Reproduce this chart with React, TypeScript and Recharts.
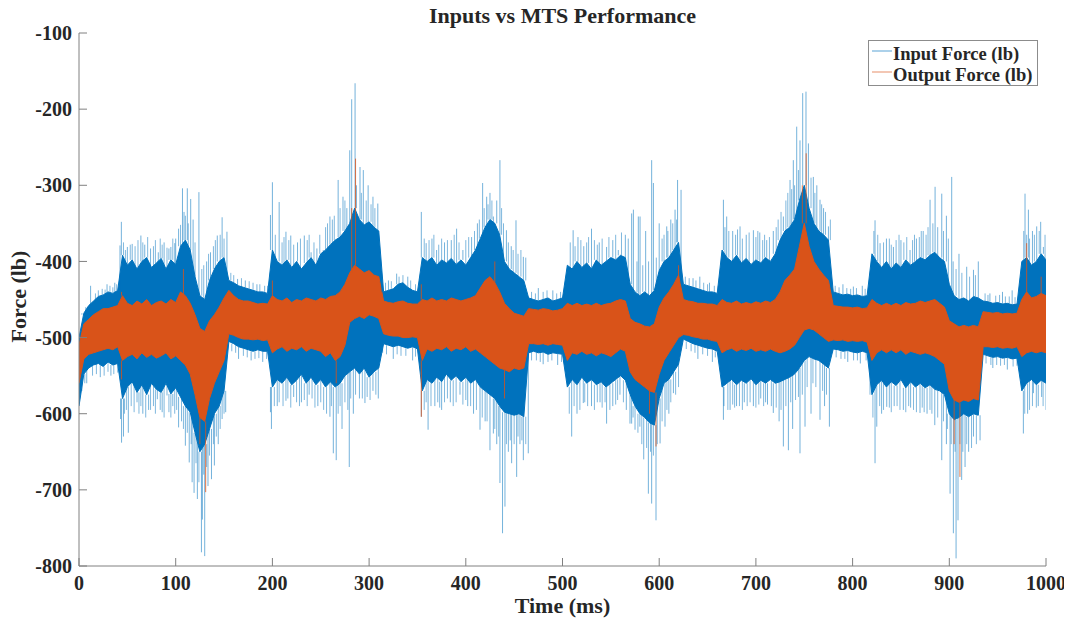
import React from 'react';
import { ComposedChart, Area, Line, XAxis, YAxis, Legend } from 'recharts';

// ---- axis ticks ----
const timeTicks = [0, 100, 200, 300, 400, 500, 600, 700, 800, 900, 1000];
const forceTicks = [-800, -700, -600, -500, -400, -300, -200, -100];

// ---- sample grid (ms), one sample every 5 ms ----
const times = Array.from({ length: 201 }, (_, i) => i * 5);

// ---- Input force: upper / lower edge of the dense signal band (lb) ----
const inputHigh = [
  -500, -468, -458, -452, -446, -444, -440, -442, -438, -392,
  -405, -398, -410, -400, -395, -408, -402, -396, -410, -398,
  -404, -380, -372, -385, -420, -445, -450, -425, -410, -400,
  -395, -425, -428, -432, -434, -436, -438, -440, -440, -442,
  -385, -400, -405, -398, -408, -400, -410, -402, -395, -405,
  -390, -385, -378, -372, -368, -360, -350, -330, -345, -352,
  -348, -355, -360, -440, -438, -436, -430, -428, -434, -438,
  -440, -395, -400, -395, -405, -398, -402, -396, -404, -398,
  -405, -395, -385, -370, -355, -345, -350, -365, -400, -410,
  -415, -420, -425, -448, -450, -452, -450, -448, -452, -450,
  -448, -405, -410, -400, -408, -402, -410, -398, -405, -400,
  -395, -398, -392, -395, -430, -440, -445, -440, -445, -438,
  -412, -400, -395, -385, -375, -430, -432, -434, -436, -438,
  -440, -440, -442, -385, -395, -400, -392, -402, -396, -404,
  -398, -402, -395, -400, -390, -372, -360, -355, -345, -320,
  -300, -330, -350, -360, -365, -372, -440, -442, -444, -443,
  -445, -444, -446, -445, -390, -400, -408, -400, -410, -402,
  -408, -398, -405, -400, -395, -398, -392, -388, -395, -400,
  -430, -445, -450, -448, -452, -446, -448, -452, -453, -455,
  -454, -456, -455, -457, -456, -400, -395, -405, -400, -390,
  -398,
];
const inputLow = [
  -590, -548, -540, -536, -534, -538, -532, -536, -534, -580,
  -565, -558, -572, -562, -575, -560, -568, -572, -560, -574,
  -566, -578, -590, -598, -625, -650, -640, -620, -600, -590,
  -570, -505, -508, -512, -514, -516, -518, -516, -518, -518,
  -565, -555, -560, -552, -562, -556, -548, -560, -552, -562,
  -555, -565, -558, -565, -560, -550, -545, -540, -548, -540,
  -552, -545, -540, -508, -510, -512, -510, -512, -514, -512,
  -515, -570, -555, -560, -552, -558, -548, -556, -550, -558,
  -552, -560, -555, -565, -570, -575, -580, -590, -598, -600,
  -602, -600, -604, -520, -518, -520, -519, -522, -520, -521,
  -522, -565, -555, -562, -552, -560, -555, -562, -558, -565,
  -560, -555, -550, -556, -575, -590, -600, -605, -612, -615,
  -580, -560, -555, -545, -535, -502, -505, -508, -510, -512,
  -514, -515, -518, -565, -560, -555, -562, -556, -560, -554,
  -562, -556, -560, -555, -560, -558, -555, -552, -548, -540,
  -530, -525, -528, -530, -535, -540, -515, -516, -518, -517,
  -519, -520, -518, -520, -575, -562, -556, -565, -558, -563,
  -555, -566, -558, -565, -560, -566, -562, -568, -570, -575,
  -600, -608, -605, -600, -604, -600, -602, -522, -524, -526,
  -525, -527, -526, -528, -527, -570, -560, -555, -562, -556,
  -560,
];

// ---- Output force: upper / lower edge of its band (lb) ----
const outputHigh = [
  -510, -482, -476, -470, -466, -462, -462, -460, -458, -445,
  -455, -458, -452, -456, -450, -458, -454, -452, -456, -450,
  -454, -440, -445, -455, -470, -488, -492, -478, -470, -460,
  -448, -438, -445, -450, -452, -452, -454, -456, -455, -456,
  -445, -450, -452, -448, -454, -450, -452, -448, -450, -452,
  -448, -450, -446, -445, -440, -430, -415, -405, -410, -415,
  -412, -418, -420, -452, -454, -455, -453, -452, -455, -456,
  -456, -450, -452, -448, -452, -450, -452, -448, -450, -452,
  -450, -448, -445, -435, -425, -420, -428, -440, -455, -462,
  -468, -470, -472, -462, -463, -464, -462, -463, -465, -464,
  -462, -455, -458, -455, -458, -456, -458, -455, -458, -456,
  -455, -452, -450, -452, -475, -480, -482, -485, -486, -482,
  -460, -448, -440, -430, -418, -450, -452, -453, -455, -455,
  -456, -456, -458, -450, -454, -455, -452, -456, -454, -456,
  -453, -455, -452, -454, -450, -440, -425, -418, -410, -380,
  -350, -380, -400, -410, -418, -425, -458, -459, -460, -460,
  -461, -460, -462, -461, -450, -455, -458, -455, -458, -455,
  -458, -454, -456, -455, -452, -454, -452, -450, -455, -460,
  -478, -482, -486, -484, -486, -484, -486, -466, -467, -468,
  -467, -469, -468, -469, -468, -450, -440, -448, -446, -442,
  -445,
];
const outputLow = [
  -560, -528, -522, -520, -518, -516, -514, -516, -512, -530,
  -525, -522, -528, -520, -526, -522, -527, -524, -520, -528,
  -524, -530, -536, -548, -575, -605, -610, -580, -560, -545,
  -530, -495, -497, -500, -502, -502, -503, -502, -504, -503,
  -520, -515, -512, -518, -514, -516, -512, -518, -514, -516,
  -518, -525, -520, -530, -525, -510, -480, -475, -472, -475,
  -470, -472, -475, -495, -497, -498, -498, -500, -500, -499,
  -500, -530, -515, -518, -514, -516, -512, -518, -514, -516,
  -512, -518, -515, -520, -525, -530, -535, -540, -542, -545,
  -540, -542, -540, -508, -508, -509, -508, -510, -508, -509,
  -510, -530, -520, -522, -518, -522, -520, -524, -520, -522,
  -525, -520, -515, -518, -545, -555, -560, -565, -570, -572,
  -548, -530, -520, -510, -500, -496, -497, -499, -500, -502,
  -502, -504, -505, -520, -516, -514, -518, -515, -517, -514,
  -518, -516, -518, -515, -518, -520, -518, -515, -510, -500,
  -490, -488, -490, -495, -500, -505, -503, -504, -503, -505,
  -504, -505, -504, -506, -530, -520, -516, -520, -516, -520,
  -516, -522, -518, -520, -522, -520, -522, -525, -530, -535,
  -570, -582, -585, -582, -584, -580, -582, -512, -512, -513,
  -512, -514, -513, -514, -512, -525, -520, -518, -520, -518,
  -520,
];

// ---- isolated excursions beyond the bands: [time ms, peak lb] ----
const inputUpSpikes = [
  [12, -432], [29, -430], [37, -428],
  [42.4, -379], [43.8, -348], [50, -381], [55, -377], [64, -366], [68, -378], [74, -383],
  [82, -388], [88, -375], [93, -383], [95, -381], [100, -370], [103, -357], [107, -304],
  [108.6, -335], [112, -304], [115.5, -318], [118, -345], [124, -309], [132, -400],
  [136, -388], [143, -366], [148, -342], [153, -361],
  [164, -423], [172, -425], [184, -430], [192, -432],
  [198, -339], [200, -296], [207, -322], [214, -361], [219, -366], [226, -375], [233, -366],
  [240, -388], [246, -383], [252.6, -398], [259.5, -341], [268, -293], [273, -315],
  [277, -330], [280, -254], [282, -187], [285.5, -166], [290.6, -276], [294, -280],
  [299, -300], [304, -315], [309, -324],
  [320, -425], [328.5, -416], [340, -420],
  [354, -335], [359, -376], [365, -370], [369.8, -385], [378, -375], [385, -372],
  [390.5, -357], [397, -385], [406, -368], [412, -350], [417.4, -297], [421.6, -315],
  [425, -310], [428.5, -341], [432, -320], [435.3, -267], [442, -359], [447, -380],
  [451.9, -346], [459.5, -394],
  [475, -435], [490, -438],
  [511, -359], [516, -368], [522, -380], [530, -357], [538, -375], [545.6, -381],
  [552, -372], [557.7, -385], [565, -365], [571.5, -337], [573.3, -332], [578.4, -341],
  [580.2, -341], [586, -360], [592.2, -267], [594, -297], [600, -350], [607.8, -354],
  [612, -345], [616.4, -332], [619, -293], [622.6, -306],
  [635, -422], [642, -420], [652, -428],
  [666.4, -319], [669.8, -341], [676, -360], [683.6, -354], [690, -365], [697.4, -359],
  [704, -362], [711.2, -372], [718, -360], [728.4, -341], [735.3, -293], [738.7, -267],
  [742.2, -223], [745.6, -241], [748.4, -179], [751.8, -177], [754.3, -245], [759.4, -289],
  [763, -300], [766.3, -319], [770, -330], [775, -354],
  [790, -430], [800.8, -433], [810, -432],
  [823.2, -346], [828.4, -376], [835, -370], [842.2, -381], [850, -372], [859.4, -385],
  [866, -370], [873, -360], [880.1, -319], [885.3, -302], [892.2, -311], [897, -340],
  [902.5, -289], [910, -390], [918, -407], [925, -411], [930, -400],
  [942, -442], [955, -440], [965, -438],
  [978.3, -311], [981.8, -332], [986, -360], [990.4, -354], [994.5, -348], [997.3, -381],
];
const inputDownSpikes = [
  [8, -560], [22, -552], [33, -550],
  [43, -607], [44, -638], [46, -630], [51, -625], [60, -585], [66, -600], [72, -595],
  [81, -581], [86, -598], [91, -576], [97, -590], [103, -618], [110, -642], [114, -664],
  [117, -690], [119, -704], [122.4, -712], [126.6, -782], [127.6, -739], [130, -787],
  [133.4, -695], [137, -686], [140, -668], [144, -640], [148, -607], [151.7, -598],
  [165, -528], [178, -530], [190, -532],
  [198, -598], [199, -620], [205, -590], [214, -583], [222, -578], [230, -585], [238, -575],
  [247, -590], [259.5, -604], [263, -652], [266, -661], [272, -620], [279.5, -670],
  [283.7, -600], [290, -580], [295.7, -586], [304, -570], [309.5, -580],
  [325, -528], [345, -530],
  [354, -604], [361, -621], [368, -590], [375, -595], [384, -585], [394, -575], [402, -590],
  [408, -600], [414.7, -621], [420, -610], [425, -648], [428.5, -626], [432, -640],
  [435.3, -691], [438, -757], [440.5, -722], [444, -650], [447.4, -665], [452.6, -683],
  [456, -640], [459.5, -661], [464.6, -652],
  [480, -535], [495, -536],
  [509.5, -630], [515, -600], [521.5, -586], [530, -590], [538.8, -585], [545.6, -613],
  [552, -590], [559.4, -575], [566, -595], [569.8, -613], [571.5, -613], [575, -621],
  [580, -617], [584, -660], [588.8, -705], [592.2, -718], [596.7, -740], [600.9, -639],
  [606, -617], [610, -600], [614.7, -573],
  [640, -528], [655, -532],
  [666.4, -608], [673.3, -595], [680, -590], [688, -585], [697.4, -590], [705, -580],
  [712, -588], [718, -599], [724, -610], [728.4, -643], [733.6, -648], [738, -620],
  [745.6, -652], [750.8, -617], [757, -600], [766.3, -608], [771, -590], [776, -617],
  [795, -532], [808, -534],
  [823.2, -665], [825, -617], [830, -600], [835.3, -591], [843, -590], [852.5, -595],
  [860, -592], [869.7, -599], [877, -600], [885, -615], [892.2, -661], [897, -640],
  [900.8, -705], [904.2, -757], [907, -790], [909, -740], [912.8, -687], [916.3, -670],
  [920, -650], [925, -630], [931.8, -635],
  [945, -540], [960, -542],
  [976.6, -626], [981, -600], [987, -573], [992, -590], [995.5, -578],
];

// ---- short fuzz just outside the band edges: [time ms, peak lb] ----
const inputUpFuzz = [
  [3, -470], [7, -460], [17, -442], [20, -438], [24, -436], [27, -437], [32, -432], [35, -434], [39, -430],
  [46, -375], [48, -385], [53, -378], [58, -380], [61, -372], [66, -375], [71, -368], [77, -380],
  [79, -372], [84, -370], [86, -378], [91, -382], [97, -370], [99, -376], [105, -352], [110, -340],
  [113, -350], [120, -375], [127, -410], [129, -405], [134, -390], [139, -380], [141, -372],
  [146, -365], [150, -370],
  [157, -415], [160, -418], [168, -422], [176, -426], [180, -428], [187, -430], [195, -432],
  [203, -365], [210, -375], [212, -368], [217, -372], [222, -378], [229, -370], [236, -372],
  [238, -365], [243, -375], [249, -365], [255, -355], [257, -350], [262, -345], [264, -340],
  [270, -330], [275, -320], [287, -300], [292, -310], [297, -320], [302, -325], [306, -330],
  [313, -430], [317, -428], [323, -426], [331, -420], [335, -418], [343, -425], [348, -430],
  [357, -370], [362, -372], [367, -365], [372, -378], [375, -370], [381, -372], [388, -365],
  [393, -375], [400, -372], [403, -368], [409, -360], [414, -345], [419, -330], [423, -325],
  [427, -320], [437, -330], [439, -350], [444, -375], [449, -385], [454, -390], [457, -385],
  [462, -395],
  [468, -440], [472, -442], [480, -440], [484, -438], [494, -442], [498, -440], [502, -438],
  [508, -375], [513, -380], [519, -372], [525, -375], [527, -368], [533, -372], [536, -378],
  [541, -370], [548, -368], [555, -365], [561, -362], [568, -370], [577, -400], [583, -405],
  [589, -400], [597, -395], [603, -370], [605, -365], [609, -360], [614, -350], [618, -345],
  [627, -420], [631, -422], [638, -425], [646, -428], [650, -430], [657, -432], [661, -432],
  [668, -355], [672, -360], [679, -365], [681, -358], [686, -370], [693, -362], [700, -368],
  [702, -360], [707, -372], [709, -365], [714, -368], [721, -355], [723, -345], [726, -335],
  [731, -320], [733, -310], [737, -305], [740, -300], [744, -280], [757, -290], [761, -310],
  [768, -325], [772, -335], [777, -345],
  [782, -432], [786, -434], [794, -435], [798, -436], [804, -435], [813, -436], [817, -436],
  [822, -360], [826, -365], [832, -375], [838, -370], [840, -378], [845, -372], [848, -365],
  [853, -375], [856, -368], [862, -372], [864, -365], [869, -368], [871, -360], [876, -365],
  [878, -355], [883, -350], [888, -355], [894, -360], [899, -370], [904, -400], [907, -410],
  [913, -415], [921, -420], [927, -418],
  [937, -442], [940, -444], [948, -445], [952, -444], [958, -446], [962, -446], [968, -447], [972, -447],
  [977, -360], [980, -365], [983, -370], [988, -365], [993, -360], [999, -365],
];
const inputDownFuzz = [
  [3, -570], [6, -560], [14, -550], [18, -548], [26, -550], [30, -545], [36, -548], [40, -546],
  [47, -600], [49, -595], [54, -590], [57, -598], [62, -600], [64, -590], [69, -605], [74, -595],
  [77, -590], [79, -600], [84, -595], [88, -605], [93, -598], [95, -605], [99, -600], [101, -595],
  [106, -610], [108, -620], [112, -625], [116, -640], [121, -665], [124, -690], [129, -680],
  [132, -670], [135, -655], [139, -640], [142, -630], [146, -620], [150, -600],
  [158, -518], [162, -520], [170, -524], [174, -526], [182, -528], [186, -527], [194, -528],
  [202, -590], [207, -585], [211, -590], [216, -580], [219, -592], [225, -585], [228, -590],
  [233, -582], [236, -590], [241, -580], [244, -592], [250, -585], [253, -595], [256, -600],
  [261, -590], [268, -600], [270, -590], [275, -585], [278, -595], [281, -580], [286, -575],
  [293, -580], [298, -578], [301, -582], [307, -575],
  [314, -520], [318, -522], [329, -522], [333, -524], [338, -524], [348, -525],
  [357, -595], [359, -585], [364, -590], [371, -585], [373, -592], [378, -585], [381, -580],
  [387, -590], [390, -585], [397, -588], [400, -582], [405, -590], [411, -595], [417, -605],
  [422, -610], [430, -620], [434, -630], [442, -640], [446, -635], [450, -640], [454, -630],
  [458, -635], [462, -640],
  [468, -530], [473, -530], [477, -532], [485, -532], [489, -530], [499, -532],
  [507, -600], [512, -590], [518, -595], [523, -585], [526, -590], [533, -595], [536, -585],
  [541, -592], [544, -585], [549, -595], [555, -588], [557, -582], [563, -585], [573, -605],
  [578, -625], [582, -640], [587, -645], [591, -650], [594, -655], [598, -640], [603, -610],
  [608, -595], [612, -585], [617, -575], [620, -565],
  [628, -515], [633, -518], [637, -520], [645, -522], [650, -524], [658, -526], [662, -528],
  [667, -590], [671, -595], [676, -588], [678, -592], [683, -590], [686, -595], [691, -590],
  [694, -585], [700, -592], [703, -588], [708, -590], [710, -585], [716, -590], [721, -592],
  [726, -595], [731, -590], [736, -585], [741, -582], [744, -578], [748, -575], [753, -565],
  [759, -560], [762, -565], [769, -570], [773, -575],
  [783, -526], [788, -528], [792, -528], [801, -530], [805, -530], [814, -530], [818, -530],
  [821, -605], [828, -590], [832, -595], [838, -592], [840, -598], [846, -590], [849, -595],
  [855, -598], [858, -590], [863, -595], [866, -598], [872, -592], [874, -598], [880, -595],
  [882, -600], [888, -605], [894, -610], [898, -620], [902, -640], [906, -650], [911, -640],
  [914, -650], [918, -640], [923, -645], [928, -640],
  [938, -534], [943, -536], [949, -536], [953, -537], [957, -536], [966, -538], [970, -537],
  [978, -600], [983, -595], [986, -590], [990, -592], [997, -590], [1000, -595],
];

const outputUpSpikes = [
  [44, -440], [108, -410], [200, -425], [282, -330], [286, -265], [354, -430],
  [430, -400], [620, -405], [748, -300], [752, -258], [980, -376], [995, -420],
];
const outputDownSpikes = [
  [44, -555], [125, -640], [131, -703], [266, -560], [354, -604], [440, -580],
  [590, -600], [596.7, -643], [905, -640], [911, -683],
];

const SERIES = [
  { name: 'Input Force (lb)', color: '#0072BD' },
  { name: 'Output Force (lb)', color: '#D95319' },
];

// ---- tables for the library ----
const bandData = times.map((t, i) => ({
  t,
  inHi: inputHigh[i],
  inLo: inputLow[i],
  outHi: outputHigh[i],
  outLo: outputLow[i],
}));

function spikeRows(spikes: number[][], edge: number[]) {
  const rows: { t: number; v: number | null }[] = [];
  spikes.forEach(([t, peak]) => {
    const base = edge[Math.min(edge.length - 1, Math.round(t / 5))];
    rows.push({ t, v: base }, { t, v: peak }, { t, v: null });
  });
  return rows;
}
const inputSpikeData = [
  ...spikeRows(inputUpSpikes, inputHigh),
  ...spikeRows(inputDownSpikes, inputLow),
];
const inputFuzzData = [
  ...spikeRows(inputUpFuzz, inputHigh),
  ...spikeRows(inputDownFuzz, inputLow),
];
const outputSpikeData = [
  ...spikeRows(outputUpSpikes, outputHigh),
  ...spikeRows(outputDownSpikes, outputLow),
];

const FONT = '"Liberation Serif", "Times New Roman", Times, serif';
const TEXT = '#262626';
const AXIS = '#808080';
const W = 1072;
const H = 622;

const YLabel = (props: any) => {
  const vb = props && props.viewBox && props.viewBox.height ? props.viewBox : { x: 19, y: 33, width: 60, height: 533 };
  const cx = vb.x + 7;
  const cy = vb.y + vb.height / 2 - 3;
  return (
    <text
      x={cx}
      y={cy}
      transform={`rotate(-90 ${cx} ${cy})`}
      textAnchor="middle"
      fill={TEXT}
      fontSize={22}
      fontWeight={700}
      fontFamily={FONT}
    >
      Force (lb)
    </text>
  );
};

const LegendBox = () => (
  <svg width={171} height={47} style={{ display: 'block' }}>
    <rect x={0.5} y={0.5} width={169} height={45} fill="#ffffff" stroke="#8c8c8c" strokeWidth={1} />
    {SERIES.map((s, i) => (
      <g key={s.name}>
        <line x1={4} x2={24} y1={11 + i * 21} y2={11 + i * 21} stroke={s.color} strokeOpacity={0.55} strokeWidth={1.2} />
        <text x={25} y={20 + i * 20.5} fill={TEXT} fontSize={18.5} fontWeight={700} fontFamily={FONT}>
          {s.name}
        </text>
      </g>
    ))}
  </svg>
);

export default function App() {
  return (
    <div style={{ position: 'relative', width: W, height: H, margin: '-8px 0 0 -8px', fontFamily: FONT, background: '#fff' }}>
      <div
        style={{
          position: 'absolute',
          left: 79,
          width: 967,
          top: 5,
          textAlign: 'center',
          fontSize: 22,
          lineHeight: '22px',
          fontWeight: 700,
          color: TEXT,
          fontFamily: FONT,
          zIndex: 2,
        }}
      >
        Inputs vs MTS Performance
      </div>
      <ComposedChart width={W} height={H} data={bandData} margin={{ top: 33, right: 26, left: 19, bottom: 0 }}>
        <XAxis
          dataKey="t"
          type="number"
          domain={[0, 1000]}
          ticks={timeTicks}
          interval={0}
          allowDataOverflow
          height={56}
          tickSize={-8}
          tickMargin={18}
          axisLine={{ stroke: AXIS }}
          tickLine={{ stroke: AXIS }}
          tick={{ fill: TEXT, fontSize: 20, fontWeight: 700, fontFamily: FONT }}
          label={{
            value: 'Time (ms)',
            position: 'insideBottom',
            offset: 9,
            fill: TEXT,
            fontSize: 22,
            fontWeight: 700,
            fontFamily: FONT,
          }}
        />
        <XAxis
          xAxisId="top"
          orientation="top"
          dataKey="t"
          type="number"
          domain={[0, 1000]}
          ticks={timeTicks}
          interval={0}
          allowDataOverflow
          height={0}
          tickSize={-8}
          tick={false}
          axisLine={{ stroke: AXIS }}
          tickLine={{ stroke: AXIS }}
        />
        <YAxis
          type="number"
          domain={[-800, -100]}
          ticks={forceTicks}
          interval={0}
          allowDataOverflow
          width={60}
          tickSize={-8}
          tickMargin={15}
          axisLine={{ stroke: AXIS }}
          tickLine={{ stroke: AXIS }}
          tick={{ fill: TEXT, fontSize: 20, fontWeight: 700, fontFamily: FONT }}
          label={YLabel}
        />
        <YAxis
          yAxisId="right"
          orientation="right"
          type="number"
          domain={[-800, -100]}
          ticks={forceTicks}
          interval={0}
          allowDataOverflow
          width={0}
          tickSize={-8}
          tick={false}
          axisLine={{ stroke: AXIS }}
          tickLine={{ stroke: AXIS }}
        />
        <Line
          data={inputFuzzData}
          dataKey="v"
          type="linear"
          stroke="#0072BD"
          strokeOpacity={0.5}
          strokeWidth={1}
          dot={false}
          activeDot={false}
          connectNulls={false}
          isAnimationActive={false}
          legendType="none"
        />
        <Line
          data={inputSpikeData}
          dataKey="v"
          type="linear"
          stroke="#0072BD"
          strokeOpacity={0.55}
          strokeWidth={1}
          dot={false}
          activeDot={false}
          connectNulls={false}
          isAnimationActive={false}
          legendType="none"
        />
        <Area
          dataKey={(d: any) => [d.inLo, d.inHi]}
          type="linear"
          stroke="#0072BD"
          strokeWidth={1}
          fill="#0072BD"
          fillOpacity={1}
          dot={false}
          activeDot={false}
          isAnimationActive={false}
          name={SERIES[0].name}
        />
        <Line
          data={outputSpikeData}
          dataKey="v"
          type="linear"
          stroke="#D95319"
          strokeOpacity={0.8}
          strokeWidth={1}
          dot={false}
          activeDot={false}
          connectNulls={false}
          isAnimationActive={false}
          legendType="none"
        />
        <Area
          dataKey={(d: any) => [d.outLo, d.outHi]}
          type="linear"
          stroke="#D95319"
          strokeWidth={1}
          fill="#D95319"
          fillOpacity={1}
          dot={false}
          activeDot={false}
          isAnimationActive={false}
          name={SERIES[1].name}
        />
        <Legend
          layout="horizontal"
          verticalAlign="middle"
          align="center"
          content={LegendBox}
          wrapperStyle={{ position: 'absolute', left: 868, top: 40, width: 171, height: 47, margin: 0, padding: 0 }}
        />
      </ComposedChart>
    </div>
  );
}
